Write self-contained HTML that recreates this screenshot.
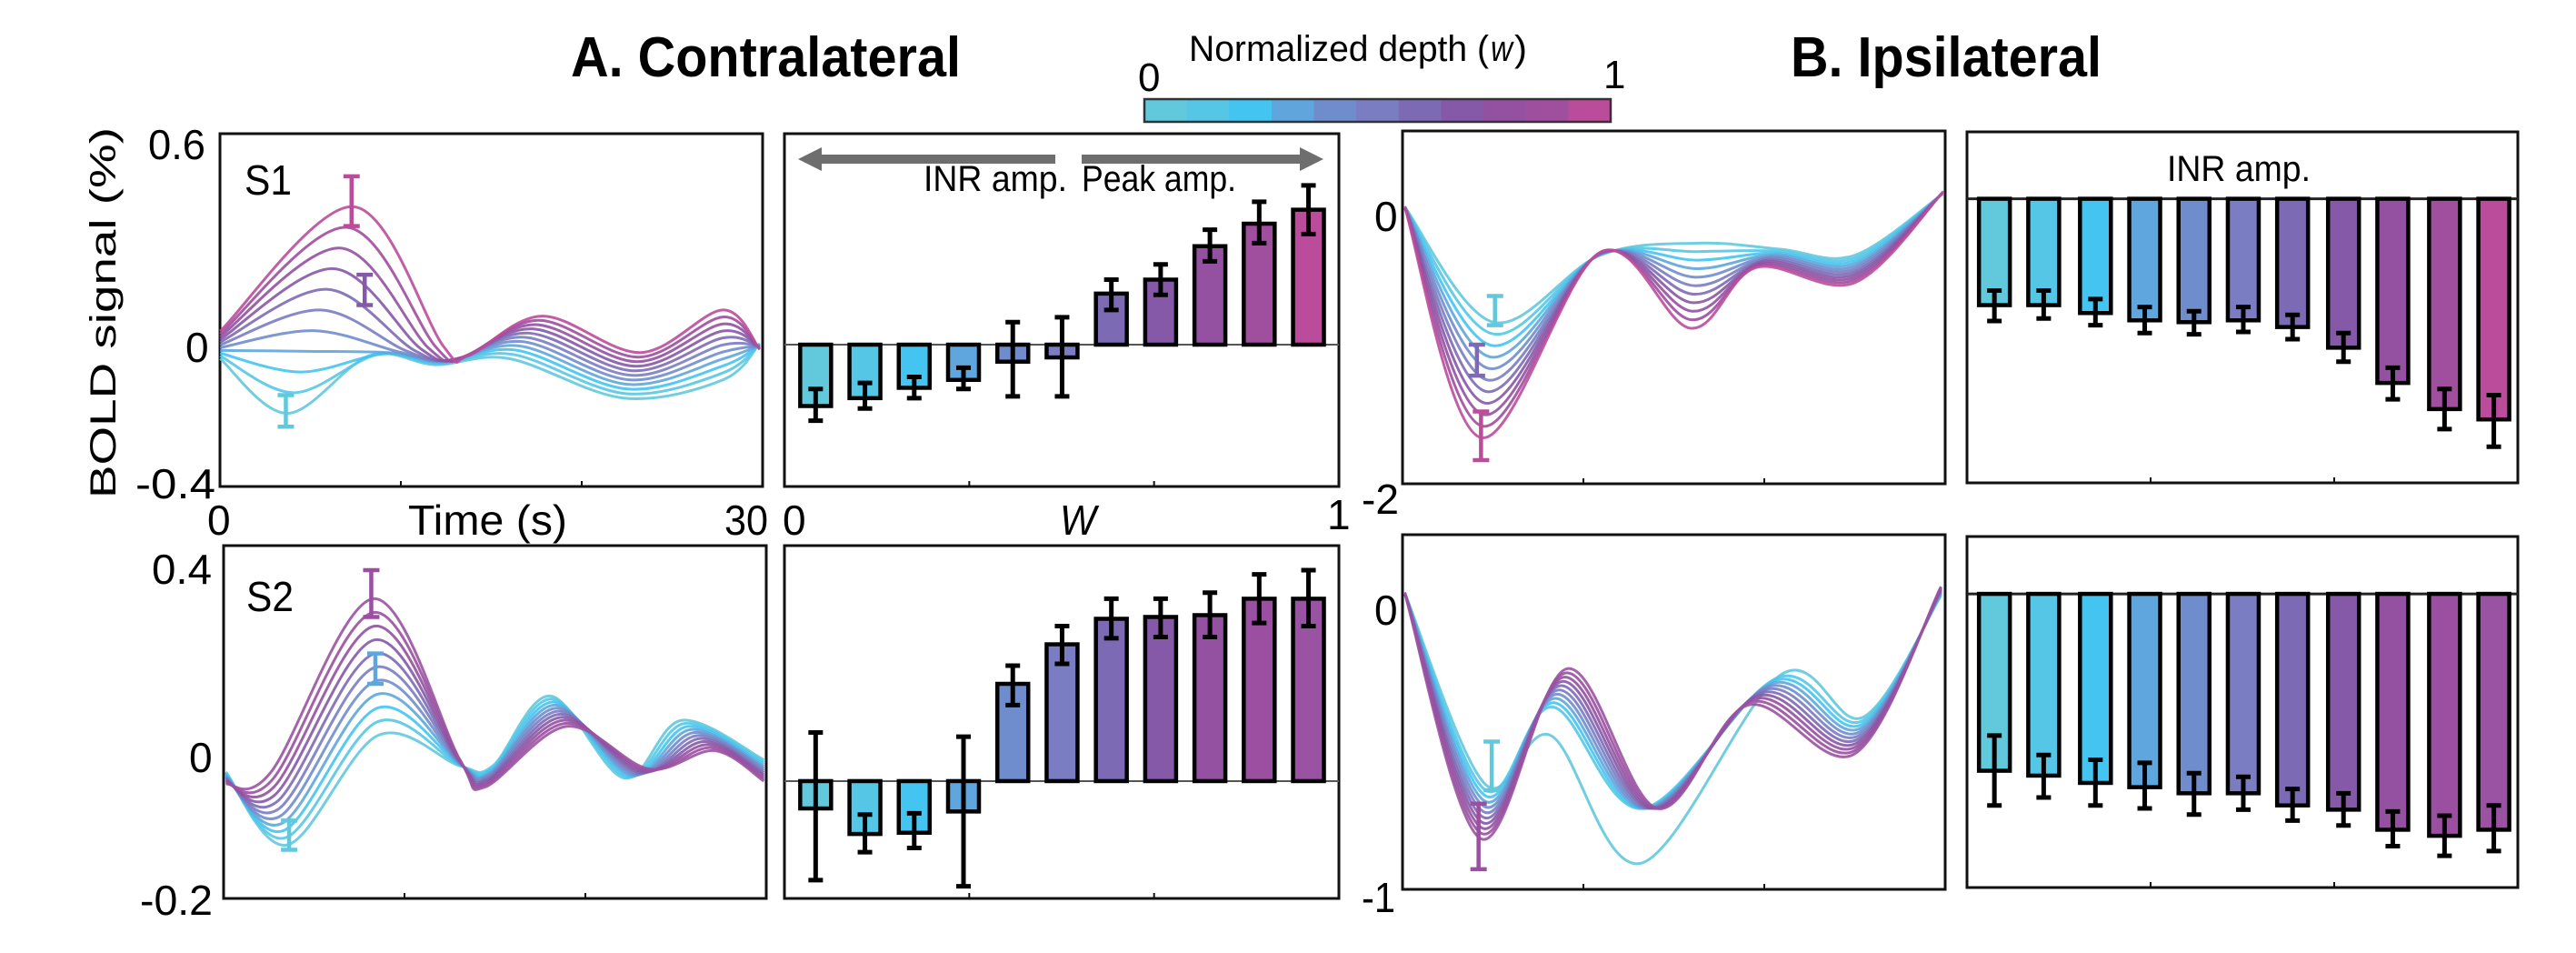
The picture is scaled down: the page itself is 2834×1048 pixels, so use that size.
<!DOCTYPE html>
<html><head><meta charset="utf-8"><style>
html,body{margin:0;padding:0;background:#fff;}
svg{display:block;}
text{font-family:"Liberation Sans Narrow","Liberation Sans",sans-serif;fill:#000;}
</style></head><body>
<svg id="s" width="2834" height="1048" xmlns="http://www.w3.org/2000/svg">
<rect width="2834" height="1048" fill="#fff"/>
</svg>
<script>
const S=document.getElementById('s');
const NS='http://www.w3.org/2000/svg';
function el(t,a,txt){const e=document.createElementNS(NS,t);for(const k in a)e.setAttribute(k,a[k]);if(txt!==undefined)e.textContent=txt;S.appendChild(e);return e;}
const C=['#62c9dd','#55c6e6','#43c4f1','#5ea6dd','#6f8dcd','#7a7dc2','#7d6ab5','#8659a8','#9451a1','#a04e9e','#bb4c9b'];
const C2=['#62c9dd','#55c6e6','#43c4f1','#5ea6dd','#6f8dcd','#7a7dc2','#7d6ab5','#8659a8','#9451a1','#9a4fa0','#9a52a2'];
const X1=z=>z/1.1066, X2=z=>1417+z/1.1066, Y=z=>z/1.496;
function txt(x,y,s,size,opts={}){const a={x:x,y:y,'font-size':size};if(opts.len){a.textLength=opts.len;a.lengthAdjust='spacingAndGlyphs';}
 if(opts.anchor)a['text-anchor']=opts.anchor;if(opts.bold)a['font-weight']='bold';if(opts.italic)a['font-style']='italic';if(opts.tr)a.transform=opts.tr;if(opts.fam)a['font-family']=opts.fam;return el('text',a,s);}
function box(x1,y1,x2,y2){el('rect',{x:x1,y:y1,width:x2-x1,height:y2-y1,fill:'none',stroke:'#111','stroke-width':3});
 for(let i=1;i<3;i++){const x=x1+(x2-x1)*i/3;el('line',{x1:x,y1:y2,x2:x,y2:y2-6,stroke:'#111','stroke-width':2});}}
function smooth(p){let d='M'+p[0][0]+','+p[0][1];for(let i=0;i<p.length-1;i++){const p0=p[Math.max(i-1,0)],p1=p[i],p2=p[i+1],p3=p[Math.min(i+2,p.length-1)];
 const c1=[p1[0]+(p2[0]-p0[0])/6,p1[1]+(p2[1]-p0[1])/6],c2=[p2[0]-(p3[0]-p1[0])/6,p2[1]-(p3[1]-p1[1])/6];d+=' C'+c1+' '+c2+' '+p2;}return d;}
function curves(A,B,fx,cols,custom){for(let i=0;i<11;i++){const t=i/10;let pts=A.map((a,j)=>[fx(a[0]*(1-t)+B[j][0]*t),Y(a[1]*(1-t)+B[j][1]*t)]);
 if(custom)pts=custom(i,pts);el('path',{d:smooth(pts),fill:'none',stroke:cols[i],'stroke-width':3,opacity:0.9});}}
function eb(x,y1,y2,c,w,sw){el('path',{d:`M${x-w},${y1}H${x+w}M${x},${y1}V${y2}M${x-w},${y2}H${x+w}`,stroke:c,'stroke-width':sw||4.5,fill:'none'});}
function bars(xs,zero,ends,errs,fx,cols){xs.forEach((zx,i)=>{const x=fx(zx),y0=Y(zero),y1=Y(ends[i]);
 el('rect',{x:x-17,y:Math.min(y0,y1),width:34,height:Math.abs(y1-y0),fill:cols[i],stroke:'#000','stroke-width':4.5});
 eb(x,Y(errs[i][0]),Y(errs[i][1]),'#000',8,5);});}

txt(628,84,'A. Contralateral',62,{bold:1,len:429});
txt(1970,84,'B. Ipsilateral',62,{bold:1,len:342});
txt(1308,67,'Normalized depth (',40,{len:330});
txt(1640,67,'w',40,{italic:1,len:24});txt(1666,67,')',40,{len:14});
txt(1252,100,'0',44);txt(1764,97,'1',44);
const cbx=1259,cbw=513;for(let i=0;i<11;i++)el('rect',{x:cbx+cbw*i/11,y:109,width:cbw/11+1,height:25,fill:C[i]});
el('rect',{x:cbx,y:109,width:cbw,height:25,fill:'none',stroke:'#333','stroke-width':2.5});

box(242,147,839,535);box(863,147,1473,535);box(1543,144,2140,532);box(2164,145,2770,531);
box(246,600,843,988);box(863,600,1473,988);box(1543,588,2140,978);box(2164,590,2770,976);
el('line',{x1:863,x2:1473,y1:Y(567),y2:Y(567),stroke:'#555','stroke-width':2});
el('line',{x1:863,x2:1473,y1:Y(1285),y2:Y(1285),stroke:'#555','stroke-width':2});
el('line',{x1:2164,x2:2770,y1:Y(327),y2:Y(327),stroke:'#222','stroke-width':3});
el('line',{x1:2164,x2:2770,y1:Y(977),y2:Y(977),stroke:'#222','stroke-width':3});

txt(127,344,'BOLD signal (%)',40,{anchor:'middle',len:408,tr:'rotate(-90 127 344)',fam:'"Liberation Sans",sans-serif'});
txt(163,175,'0.6',46,{len:63});txt(204,398,'0',46);txt(149,548,'-0.4',46,{len:88});
txt(167,642,'0.4',46,{len:66});txt(208,849,'0',46);txt(154,1006,'-0.2',46,{len:80});
txt(228,588,'0',46);txt(449,588,'Time (s)',46,{len:175});txt(797,588,'30',46,{len:48});
txt(861,588,'0',46);txt(1166,588,'W',46,{italic:1,len:40});txt(1460,582,'1',46);
txt(1498,565,'-2',46,{len:41});txt(1512,254,'0',46);txt(1512,687,'0',46);txt(1498,1003,'-1',46,{len:37});
txt(269,214,'S1',46,{len:52});txt(271,672,'S2',46,{len:52});
txt(1016,210,'INR amp.',40,{len:158});txt(1190,210,'Peak amp.',40,{len:170});
txt(2384,199,'INR amp.',40,{len:158});

el('path',{d:'M1161,170H904V162L878,175L904,188V180H1161Z',fill:'#6e6e6e'});
el('path',{d:'M1190,170H1430V162L1456,175L1430,188V180H1190Z',fill:'#6e6e6e'});

curves([[268,590],[350,680],[450,585],[530,600],[620,590],[760,655],[880,625],[925,565]],
       [[268,545],[430,340],[540,570],[570,585],[660,520],[780,580],[880,510],[925,575]],X1,C);
eb(X1(428),Y(290),Y(372),C[10],9);eb(X1(444),Y(452),Y(502),C[7],9);eb(X1(348),Y(650),Y(702),C[0],9);
curves([[275,1270],[350,1390],[460,1210],[560,1260],[600,1260],[670,1145],[760,1280],[830,1185],[930,1250]],
       [[275,1290],[330,1270],[455,985],[560,1250],[590,1295],[690,1195],[790,1265],[870,1235],[930,1285]],X1,C2);
eb(X1(452),Y(938),Y(1015),C2[9],9);eb(X1(457),Y(1075),Y(1125),C[3],9);eb(X1(352),Y(1350),Y(1398),C[0],9);
curves([[142,340],[250,530],[380,420],[500,400],[600,410],[690,420],[798,318]],
       [[142,340],[235,720],[380,415],[490,540],[570,440],[690,465],[798,315]],X2,C);
eb(X2(252),Y(487),Y(535),C[0],9);eb(X2(230),Y(567),Y(618),C[6],9);eb(X2(235),Y(677),Y(757),C[10],9);
curves([[142,975],[240,1290],[320,1170],[430,1330],[600,1110],[700,1180],[795,980]],
       [[142,975],[235,1380],[340,1100],[450,1330],[560,1160],[690,1240],[795,965]],X2,C2,
       (i,p)=>{if(i===0){p[3][1]=Y(1420);p[2][1]=Y(1210);}return p;});
eb(X2(248),Y(1220),Y(1300),C[0],9);eb(X2(232),Y(1322),Y(1430),C2[9],9);

const bx1=[993,1053,1113,1173,1233,1293,1353,1413,1473,1533,1593];
bars(bx1,567,[668,655,638,625,595,588,483,460,405,368,345],
 [[640,692],[630,672],[620,655],[605,640],[530,652],[522,652],[460,510],[435,485],[378,430],[332,400],[305,385]],X1,C);
bars(bx1,1285,[1330,1372,1370,1335,1125,1060,1018,1015,1012,985,985],
 [[1205,1448],[1340,1402],[1338,1395],[1212,1458],[1095,1160],[1030,1092],[985,1050],[985,1048],[975,1048],[945,1025],[938,1030]],X1,C2);
const bx2=[860,920,983,1043,1103,1163,1223,1285,1345,1408,1468];
bars(bx2,327,[502,502,515,527,530,527,538,572,630,673,690],
 [[478,528],[478,524],[492,535],[505,548],[512,550],[505,546],[518,558],[548,595],[605,657],[640,706],[650,735]],X2,C);
bars(bx2,977,[1268,1276,1288,1295,1305,1305,1325,1332,1365,1375,1365],
 [[1210,1325],[1242,1312],[1250,1325],[1255,1330],[1272,1340],[1278,1332],[1298,1350],[1305,1358],[1335,1392],[1342,1408],[1325,1400]],X2,C2);
</script>
</body></html>
